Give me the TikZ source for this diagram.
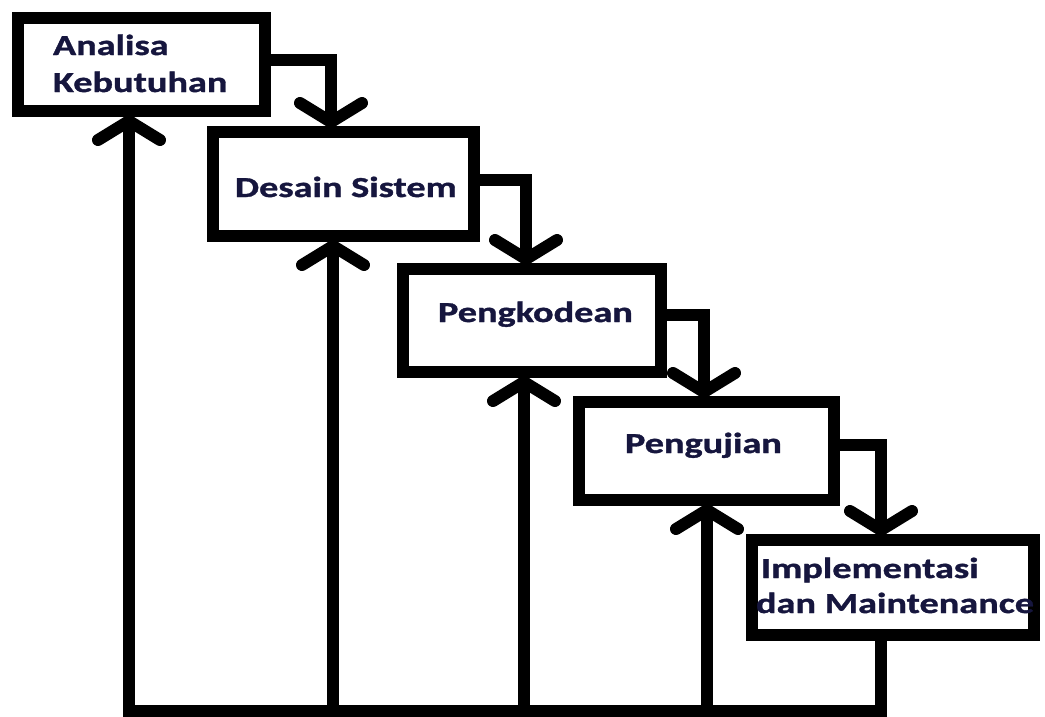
\documentclass[tikz,border=0pt]{standalone}
\usepackage{fontspec}
\setmainfont{Carlito}[FakeStretch=1.32, BoldFeatures={FakeBold=1.2}]
\usetikzlibrary{arrows.meta}
\definecolor{txt}{RGB}{22,22,62}
\tikzset{
  box/.style={draw=black, line width=12pt, rectangle, inner sep=0pt, outer sep=0pt, fill=white},
  lbl/.style={anchor=base west, inner sep=0pt, outer sep=0pt, text=txt, font=\fontsize{29}{35}\selectfont\bfseries},
  conn/.style={draw=black, line width=12pt, line join=miter,
    -{Straight Barb[length=19pt, width=62pt, round]}, shorten >=4pt},
}
\begin{document}
\begin{tikzpicture}[x=1pt, y=-1pt]
\useasboundingbox (0,0) rectangle (1045,716);
% boxes
\node[box, minimum width=247pt, minimum height=93pt] (b1) at (141.5,64.5) {};
\node[box, minimum width=261pt, minimum height=104pt] (b2) at (343.5,184) {};
\node[box, minimum width=258pt, minimum height=103pt] (b3) at (532,320.5) {};
\node[box, minimum width=255pt, minimum height=98pt] (b4) at (706.5,451) {};
\node[box, minimum width=282pt, minimum height=95pt] (b5) at (893,587.5) {};
% labels
\node[lbl] (t1a) at (53,55) {Analisa};
\node[lbl] (t1b) at (53,92) {Kebutuhan};
\node[lbl] (t2) at (235,197) {Desain Sistem};
\node[lbl] (t3) at (438,322) {Pengkodean};
\node[lbl] (t4) at (625,453) {Pengujian};
\node[lbl] (t5a) at (761,578) {Implementasi};
\node[lbl] (t5b) at (756,613) {dan Maintenance};
% forward connectors
\coordinate (k1) at (331,60);
\coordinate (k2) at (526,180);
\coordinate (k3) at (704,315);
\coordinate (k4) at (881,445);
\draw[conn] (b1.east |- k1) -- (k1) -- (b2.north -| k1);
\draw[conn] (b2.east |- k2) -- (k2) -- (b3.north -| k2);
\draw[conn] (b3.east |- k3) -- (k3) -- (b4.north -| k3);
\draw[conn] (b4.east |- k4) -- (k4) -- (b5.north -| k4);
% feedback
\coordinate (r) at (881,711);
\coordinate (u1) at (129,711);
\coordinate (u2) at (333,711);
\coordinate (u3) at (524,711);
\coordinate (u4) at (707,711);
\draw[conn] (b5.south -| r) -- (r) -- (u1) -- (b1.south -| u1);
\draw[conn] (u2) -- (b2.south -| u2);
\draw[conn] (u3) -- (b3.south -| u3);
\draw[conn] (u4) -- (b4.south -| u4);
\end{tikzpicture}
\end{document}
